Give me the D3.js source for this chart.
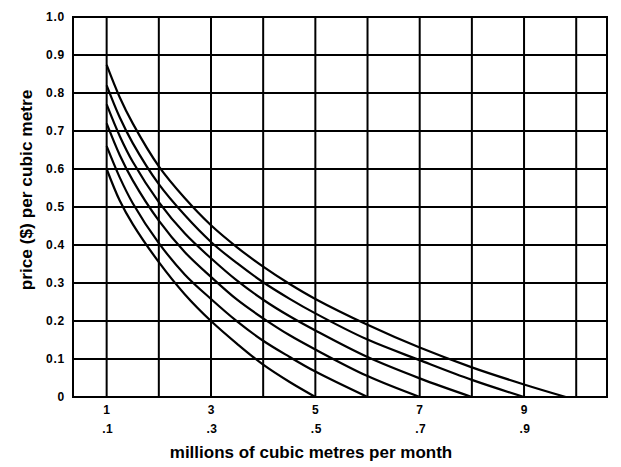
<!DOCTYPE html>
<html>
<head>
<meta charset="utf-8">
<script src="https://cdn.jsdelivr.net/npm/d3@7"></script>
<style>
  html, body { margin: 0; padding: 0; background: #fff; }
  svg { display: block; }
  text { font-family: "Liberation Sans", Arial, sans-serif; font-weight: bold; fill: #000; }
</style>
</head>
<body>
<svg id="chart" width="621" height="467"></svg>
<script>
// ---- data ----
const quantity = [1, 1.25, 1.5, 2, 2.5, 3, 3.5, 4, 4.5, 5, 6, 7, 8, 9];
// price ($ per cubic metre) at each quantity; null where the curve has already reached zero
const priceA = [0.60, 0.517, 0.455, 0.355, 0.27, 0.20, 0.14, 0.085, 0.04, null, null, null, null, null];
const priceB = [0.66, 0.578, 0.51, 0.405, 0.322, 0.258, 0.199, 0.148, 0.106, 0.067, null, null, null, null];
const priceC = [0.72, 0.637, 0.57, 0.464, 0.381, 0.316, 0.256, 0.207, 0.163, 0.125, 0.055, null, null, null];
const priceD = [0.77, 0.687, 0.619, 0.513, 0.43, 0.365, 0.306, 0.256, 0.213, 0.175, 0.105, 0.049, null, null];
const priceE = [0.82, 0.736, 0.668, 0.56, 0.478, 0.408, 0.352, 0.302, 0.259, 0.22, 0.151, 0.097, 0.045, null];
const priceF = [0.874, 0.789, 0.72, 0.607, 0.523, 0.452, 0.394, 0.343, 0.298, 0.258, 0.19, 0.13, 0.078, 0.033];
const zeroAt = [5, 6, 7, 8, 9, 9.8];   // quantity where each curve meets zero price
const seriesPrices = [priceA, priceB, priceC, priceD, priceE, priceF];

const yTicks = [0, 0.1, 0.2, 0.3, 0.4, 0.5, 0.6, 0.7, 0.8, 0.9, 1.0];
const yTickLabels = ["0", "0.1", "0.2", "0.3", "0.4", "0.5", "0.6", "0.7", "0.8", "0.9", "1.0"];
const xGrid = [1, 2, 3, 4, 5, 6, 7, 8, 9, 10];
const xTicks = [1, 3, 5, 7, 9];
const xTickLabelsTop = ["1", "3", "5", "7", "9"];
const xTickLabelsBottom = [".1", ".3", ".5", ".7", ".9"];
const xTitle = "millions of cubic metres per month";
const yTitle = "price ($) per cubic metre";

// ---- layout ----
const svg = d3.select("#chart");
const pLeft = 73, pRight = 607, pTop = 17, pBottom = 397;
const x = d3.scaleLinear().domain([0.355, 10.59]).range([pLeft, pRight]);
const y = d3.scaleLinear().domain([0, 1]).range([pBottom, pTop]);

const g = svg.append("g");

// grid
g.selectAll("line.vg").data(xGrid).enter().append("line")
  .attr("x1", d => x(d)).attr("x2", d => x(d))
  .attr("y1", y(0)).attr("y2", y(1))
  .attr("stroke", "#000").attr("stroke-width", 2);
g.selectAll("line.hg").data(yTicks).enter().append("line")
  .attr("x1", pLeft).attr("x2", pRight)
  .attr("y1", d => y(d)).attr("y2", d => y(d))
  .attr("stroke", "#000").attr("stroke-width", 2);
// frame
g.append("rect").attr("x", pLeft).attr("y", pTop)
  .attr("width", pRight - pLeft).attr("height", pBottom - pTop)
  .attr("fill", "none").attr("stroke", "#000").attr("stroke-width", 2);

// curves
const line = d3.line().x(d => x(d[0])).y(d => y(d[1])).curve(d3.curveCatmullRom.alpha(0.5));
seriesPrices.forEach((prices, i) => {
  const pts = [];
  quantity.forEach((q, j) => { if (prices[j] !== null && q < zeroAt[i]) pts.push([q, prices[j]]); });
  pts.push([zeroAt[i], 0]);
  g.append("path").attr("d", line(pts))
    .attr("fill", "none").attr("stroke", "#000").attr("stroke-width", 2.2);
});

// y tick labels
g.selectAll("text.yt").data(yTicks).enter().append("text")
  .attr("x", 65).attr("y", d => y(d)).attr("dy", "0.36em")
  .attr("text-anchor", "end").attr("font-size", 12).attr("letter-spacing", 0.8)
  .text((d, i) => yTickLabels[i]);

// x tick labels (two rows)
g.selectAll("text.xt1").data(xTicks).enter().append("text")
  .attr("x", d => x(d)).attr("y", 414)
  .attr("text-anchor", "middle").attr("font-size", 12)
  .text((d, i) => xTickLabelsTop[i]);
g.selectAll("text.xt2").data(xTicks).enter().append("text")
  .attr("x", d => x(d) + 1).attr("y", 433)
  .attr("text-anchor", "middle").attr("font-size", 12).attr("letter-spacing", 0.5)
  .text((d, i) => xTickLabelsBottom[i]);

// axis titles
svg.append("text").attr("x", 311).attr("y", 457.5)
  .attr("text-anchor", "middle").attr("font-size", 17)
  .text(xTitle);
svg.append("text").attr("transform", "translate(32,190) rotate(-90)")
  .attr("text-anchor", "middle").attr("font-size", 17.3)
  .text(yTitle);
</script>
</body>
</html>
